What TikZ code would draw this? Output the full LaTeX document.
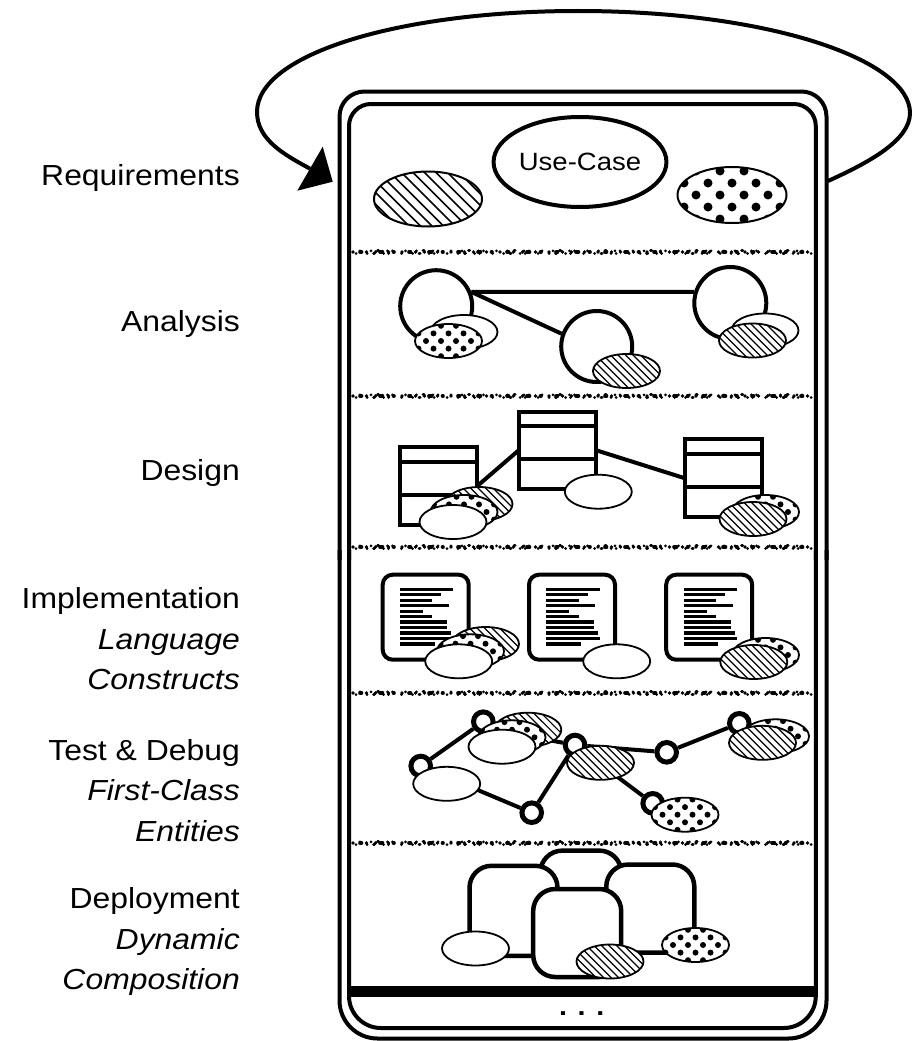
\documentclass[tikz,border=0pt]{standalone}
\usepackage{fontspec}
\setmainfont{Liberation Sans}[FakeStretch=1.1]
\usetikzlibrary{shapes.geometric,calc}
\pgfdeclarelayer{bg}
\pgfsetlayers{bg,main}
\tikzset{
  frameline/.style={line width=4pt},
  conn/.style={line width=4pt},
  ell/.style={ellipse, draw, line width=1.8pt, fill=white, minimum width=67pt, minimum height=34pt, inner sep=0pt},
  plainell/.style={ell},
  hatchell/.style={ell, path picture={\foreach \k in {-10,...,10}{\draw[black, line width=1.2pt] ($(path picture bounding box.center)+(\k*7.5-40,-40)$) -- ++(80,80);}}},
  dotell/.style={ell, path picture={\foreach \ri in {0,...,8}{\foreach \ci in {-4,...,4}{\fill[black] ($(path picture bounding box.center)+({\ci*15+7.5*mod(\ri+1,2)},{(\ri-4)*7.6})$) circle[radius=3pt];}}}},
  bighatch/.style={ell, line width=2pt, minimum width=108pt, minimum height=55pt, path picture={\foreach \k in {-13,...,13}{\draw[black, line width=1.6pt] ($(path picture bounding box.center)+(\k*11.5-60,-60)$) -- ++(120,120);}}},
  bigdot/.style={ell, line width=2pt, minimum width=109pt, minimum height=56pt, path picture={\foreach \ri in {0,...,8}{\foreach \ci in {-4,...,4}{\fill[black] ($(path picture bounding box.center)+({\ci*24+12*mod(\ri+1,2)},{(\ri-4)*12})$) circle[radius=4.5pt];}}}},
  acirc/.style={circle, draw, line width=4pt, fill=white, minimum size=72pt, inner sep=0pt},
  cbox/.style={draw, line width=4pt, fill=white, minimum width=77.6pt, minimum height=77.5pt, inner sep=0pt, outer sep=0pt},
  dbox/.style={draw, line width=4pt, fill=white, rounded corners=10pt, minimum width=86pt, minimum height=85pt, inner sep=0pt},
  tnode/.style={circle, draw, line width=5pt, fill=white, minimum size=19.6pt, inner sep=0pt},
  rsq/.style={draw, line width=4.5pt, fill=white, rounded corners=22pt, minimum width=88pt, minimum height=88pt, inner sep=0pt},
  lbl/.style={anchor=base east, inner sep=0pt, font=\fontsize{29pt}{35pt}\selectfont},
  sepA/.style={line width=3.6pt, line cap=round, dash pattern=on 0pt off 7pt on 1.5pt off 5pt on 0pt off 9pt on 0pt off 4.5pt on 2.5pt off 6pt on 0pt off 5pt on 0.5pt off 8pt},
  sepB/.style={line width=3pt, line cap=round, dash pattern=on 0pt off 11pt on 0pt off 6.5pt on 1pt off 9pt on 0pt off 5pt on 0pt off 13pt}
}
\newcommand\compart[1]{%
  \draw[line width=4pt] ($(#1.north west)+(0,14.5)$) -- ($(#1.north east)+(0,14.5)$);
  \draw[line width=4pt] ($(#1.north west)+(0,47.5)$) -- ($(#1.north east)+(0,47.5)$);}
\newcommand\doclines[1]{%
  \foreach \i/\l in {0/53.3,1/41.3,2/32.3,3/49,4/23,5/32.3,6/47.3,7/47.3,8/51.3,9/53.3,10/34.7}{%
    \draw[line width=3.3pt] ($(#1.center)+(-25.7,-27.9+5.47*\i)$) -- ++(\l,0);}}
\begin{document}
\begin{tikzpicture}[x=1pt,y=-1pt]
\useasboundingbox (0,0) rectangle (911,1041);
% labels
\node[lbl] (lreq) at (240,185.5) {Requirements};
\node[lbl] (lana) at (240,331.7) {Analysis};
\node[lbl] (ldes) at (240,480) {Design};
\node[lbl] (limp) at (240,608.5) {Implementation};
\node[lbl] (llan) at (240,649) {\itshape Language};
\node[lbl] (lcon) at (240,689.5) {\itshape Constructs};
\node[lbl] (ltst) at (240,760) {Test \& Debug};
\node[lbl] (lfcl) at (240,800.5) {\itshape First-Class};
\node[lbl] (lent) at (240,841.5) {\itshape Entities};
\node[lbl] (ldep) at (240,908.5) {Deployment};
\node[lbl] (ldyn) at (240,949) {\itshape Dynamic};
\node[lbl] (lcmp) at (240,989.5) {\itshape Composition};
% loop arrow
\coordinate (loopstart) at (828,181);
\coordinate (loopend) at (310,168.7);
\draw[line width=4pt] (loopstart) .. controls (870,162) and (910,140) .. (910,113)
  .. controls (910,60) and (770,11) .. (578,11)
  .. controls (400,11) and (257,54) .. (257,112)
  .. controls (257,140) and (285,155) .. (loopend);
\fill (322.7,146.7) -- (332.7,181.7) -- (297.3,190.7) -- cycle;
% frames
\draw[frameline, rounded corners=25pt] (339.5,560) -- (339.5,91.5) -- (826.5,91.5) -- (826.5,560);
\draw[frameline, rounded corners=38pt] (339.5,550) -- (339.5,1038.5) -- (826.5,1038.5) -- (826.5,550);
\draw[frameline, rounded corners=22pt] (349,560) -- (349,104) -- (815.8,104) -- (815.8,560);
\draw[frameline, rounded corners=32pt] (349,550) -- (349,1028) -- (815.8,1028) -- (815.8,550);
\fill (349,986) rectangle (815.8,997);
\node[inner sep=0pt, anchor=base, font=\fontsize{26pt}{30pt}\selectfont\bfseries] (more) at (581.7,1015.3) {. . .};
% separators
\foreach \y in {252,396,547,693,843}{%
  \draw[sepA] (353,\y) -- (812,\y);
  \draw[sepB] (356,\y+1.5) -- (812,\y+1.5);
  \draw[sepB] (360,\y-1.2) -- (812,\y-1.2);}
% Requirements
\node[draw, ellipse, line width=4pt, fill=white, minimum width=172pt, minimum height=90pt, inner sep=0pt, font=\fontsize{25pt}{30pt}\selectfont] (uc) at (580,162) {Use-Case};
\node[bighatch] (rh) at (428,199) {};
\node[bigdot] (rd) at (732,195) {};
% Analysis
\node[acirc] (a1) at (436.2,306.2) {};
\node[acirc, minimum size=71pt] (a2) at (596.7,346.5) {};
\node[acirc] (a3) at (730.3,303) {};
\begin{pgfonlayer}{bg}
\draw[conn] (a1.22) -- (a3.163);
\draw[conn] (a1.22) -- (a2.160);
\end{pgfonlayer}
\node[plainell] (ae1) at (464,332) {};
\node[dotell] (ae2) at (448.5,341) {};
\node[hatchell] (ae3) at (626.5,371) {};
\node[plainell] (ae4) at (765,330.5) {};
\node[hatchell] (ae5) at (752.5,340.5) {};
% Design
\node[cbox] (d1) at (438.5,486) {};
\node[cbox] (d2) at (557.5,450.3) {};
\node[cbox] (d3) at (723.5,478.2) {};
\compart{d1}\compart{d2}\compart{d3}
\begin{pgfonlayer}{bg}
\draw[conn] (d1.east) -- (d2.west);
\draw[conn] (d2.east) -- (d3.west);
\end{pgfonlayer}
\node[hatchell] (de1) at (479,504) {};
\node[dotell] (de2) at (464,512) {};
\node[plainell] (de3) at (453,522) {};
\node[plainell] (de4) at (598.3,491.7) {};
\node[dotell] (de5) at (765.5,512) {};
\node[hatchell] (de6) at (753,519) {};
% Implementation
\node[dbox] (i1) at (425.7,617.2) {};
\node[dbox] (i2) at (572,617.2) {};
\node[dbox] (i3) at (709.2,617.2) {};
\doclines{i1}\doclines{i2}\doclines{i3}
\node[hatchell] (ie1) at (485.5,644) {};
\node[dotell] (ie2) at (470.5,651.3) {};
\node[plainell] (ie3) at (458.7,661.3) {};
\node[plainell] (ie4) at (616.7,661.3) {};
\node[dotell] (ie5) at (765.5,655) {};
\node[hatchell] (ie6) at (753.8,662) {};
% Test & Debug
\node[tnode] (t1) at (483.3,721.7) {};
\node[tnode] (t2) at (420.7,766) {};
\node[tnode] (t3) at (531.7,812.7) {};
\node[tnode] (t4) at (575,745) {};
\node[tnode] (t5) at (666.7,752.3) {};
\node[tnode] (t6) at (739.3,723.3) {};
\node[tnode] (t7) at (652.7,803.3) {};
\begin{pgfonlayer}{bg}
\draw[conn] (t1) -- (t2);
\draw[conn] (t2) -- (t3);
\draw[conn] (t3) -- (t4);
\draw[conn] (t4) -- (t5);
\draw[conn] (t5) -- (t6);
\draw[conn] (t4) -- (t7);
\draw[conn] (t1.-40) -- (t4);
\end{pgfonlayer}
\node[hatchell] (te1) at (527.8,729.7) {};
\node[dotell] (te2) at (512,737.3) {};
\node[plainell] (te3) at (502,746.7) {};
\node[plainell] (te4) at (446.7,783.8) {};
\node[hatchell] (te5) at (600.5,762.8) {};
\node[dotell] (te6) at (775.5,736.3) {};
\node[hatchell] (te7) at (762.5,742.8) {};
\node[dotell] (te8) at (685,814.7) {};
% Deployment
\node[rsq, minimum width=81pt] (pb) at (580.8,894.6) {};
\node[rsq, minimum height=90pt] (pa) at (513.5,910.8) {};
\node[rsq] (pc) at (650.3,908.5) {};
\node[rsq] (pd) at (577.2,933) {};
\node[plainell] (pe1) at (475.5,948.5) {};
\node[hatchell] (pe2) at (610,961.5) {};
\node[dotell] (pe3) at (695.5,945) {};
\end{tikzpicture}
\end{document}
